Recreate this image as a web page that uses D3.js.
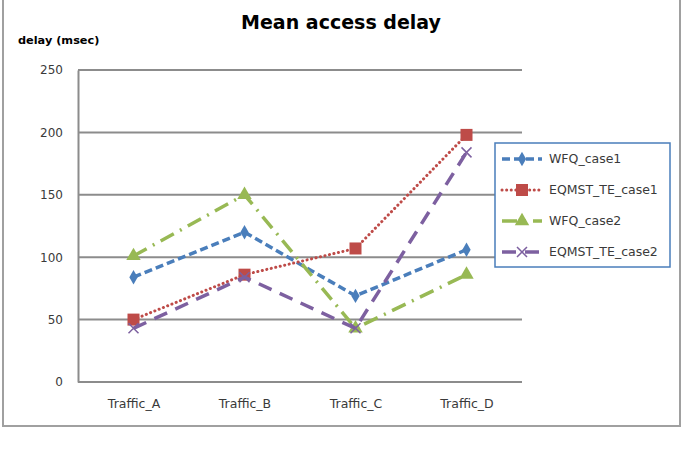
<!DOCTYPE html>
<html>
<head>
<meta charset="utf-8">
<script src="https://cdn.jsdelivr.net/npm/d3@7"></script>
<style>
  body { margin: 0; background: #fff; }
  text { font-family: "DejaVu Sans", "Open Sans", sans-serif; }
</style>
</head>
<body>
<div id="chart"></div>
<script>
const categories = ["Traffic_A", "Traffic_B", "Traffic_C", "Traffic_D"];
const yTicks = [0, 50, 100, 150, 200, 250];
const wfqCase1 = [84, 120, 69, 106];
const eqmstCase1 = [50, 86, 107, 198];
const wfqCase2 = [101, 150, 43, 86];
const eqmstCase2 = [43, 84, 43, 184];

const series = [
    {name: "WFQ_case1", values: wfqCase1, color: "#4a7ebb", dash: "8,4", width: 3.5, marker: "diamond"},
    {name: "EQMST_TE_case1", values: eqmstCase1, color: "#be4b48", dash: "0.1,4.5", width: 3, cap: "round", marker: "square"},
    {name: "WFQ_case2", values: wfqCase2, color: "#98b954", dash: "15,7,2,7", width: 3.5, marker: "triangle"},
    {name: "EQMST_TE_case2", values: eqmstCase2, color: "#7d60a0", dash: "14,9", width: 3.5, marker: "x"}
];

const width = 687, height = 454;
const margin = {top: 70, right: 165, bottom: 72, left: 78};

const svg = d3.select("#chart")
    .append("svg")
    .attr("width", width)
    .attr("height", height);

// outer frame
svg.append("rect")
    .attr("x", 3).attr("y", -2)
    .attr("width", 677).attr("height", 428)
    .attr("fill", "none")
    .attr("stroke", "#a0a0a0")
    .attr("stroke-width", 2);

const x = d3.scalePoint()
    .domain(categories)
    .range([margin.left, width - margin.right])
    .padding(0.5);

const y = d3.scaleLinear()
    .domain([0, 250])
    .range([height - margin.bottom, margin.top]);

// gridlines
svg.append("g")
    .selectAll("line")
    .data(yTicks.filter(d => d > 0))
    .join("line")
    .attr("x1", margin.left)
    .attr("x2", width - margin.right)
    .attr("y1", d => y(d))
    .attr("y2", d => y(d))
    .attr("stroke", "#8c8c8c")
    .attr("stroke-width", 2);

// axes
const yAxis = svg.append("g")
    .attr("transform", `translate(${margin.left},0)`)
    .attr("color", "#333")
    .call(d3.axisLeft(y).tickValues(yTicks).tickSize(0).tickPadding(15));
yAxis.select(".domain").attr("stroke", "#8c8c8c").attr("stroke-width", 2);
yAxis.selectAll("text").attr("font-size", 12).attr("fill", "#3a3a3a");

const xAxis = svg.append("g")
    .attr("transform", `translate(0,${height - margin.bottom})`)
    .attr("color", "#333")
    .call(d3.axisBottom(x).tickSize(0).tickPadding(17));
xAxis.select(".domain")
    .attr("d", `M${margin.left},0H${width - margin.right}`)
    .attr("stroke", "#8c8c8c").attr("stroke-width", 2);
xAxis.selectAll("text").attr("font-size", 12.5).attr("fill", "#3a3a3a");

// title and y label
svg.append("text")
    .attr("x", 341).attr("y", 29)
    .attr("text-anchor", "middle")
    .attr("font-family", "'Open Sans', sans-serif")
    .attr("font-size", 19)
    .attr("font-weight", "bold")
    .text("Mean access delay");

svg.append("text")
    .attr("x", 18).attr("y", 44)
    .attr("font-family", "'Open Sans', sans-serif")
    .attr("font-size", 11.3)
    .attr("font-weight", "bold")
    .text("delay (msec)");

const line = d3.line()
    .x((d, i) => x(categories[i]))
    .y(d => y(d));

function drawMarker(g, type, color) {
    if (type === "diamond") {
        g.append("path").attr("d", d3.symbol(d3.symbolDiamond, 60)()).attr("fill", color);
    } else if (type === "square") {
        g.append("rect").attr("x", -6).attr("y", -6).attr("width", 12).attr("height", 12).attr("fill", color);
    } else if (type === "triangle") {
        g.append("path").attr("d", d3.symbol(d3.symbolTriangle, 90)()).attr("fill", color);
    } else {
        g.append("path").attr("d", "M-5,-5L5,5M-5,5L5,-5").attr("stroke", color).attr("stroke-width", 1.5);
    }
}

series.forEach(s => {
    svg.append("path")
        .datum(s.values)
        .attr("d", line)
        .attr("fill", "none")
        .attr("stroke", s.color)
        .attr("stroke-width", s.width)
        .attr("stroke-linecap", s.cap || "butt")
        .attr("stroke-dasharray", s.dash);

    svg.append("g")
        .selectAll("g")
        .data(s.values)
        .join("g")
        .attr("transform", (d, i) => `translate(${x(categories[i])},${y(d)})`)
        .each(function() { drawMarker(d3.select(this), s.marker, s.color); });
});

// legend
const legend = svg.append("g").attr("transform", "translate(495,143)");
legend.append("rect")
    .attr("width", 175).attr("height", 124)
    .attr("fill", "#fff")
    .attr("stroke", "#4a7ebb")
    .attr("stroke-width", 1.5);

const items = legend.selectAll("g.item")
    .data(series)
    .join("g")
    .attr("class", "item")
    .attr("transform", (d, i) => `translate(0,${16 + i * 31})`);

items.append("line")
    .attr("x1", 7).attr("x2", 47)
    .attr("stroke", d => d.color)
    .attr("stroke-width", d => d.width)
    .attr("stroke-linecap", d => d.cap || "butt")
    .attr("stroke-dasharray", d => d.dash);

items.append("g")
    .attr("transform", "translate(27,0)")
    .each(function(d) { drawMarker(d3.select(this), d.marker, d.color); });

items.append("text")
    .attr("x", 54).attr("dy", "0.35em")
    .attr("font-size", 12.5)
    .attr("fill", "#3a3a3a")
    .text(d => d.name);
</script>
</body>
</html>
